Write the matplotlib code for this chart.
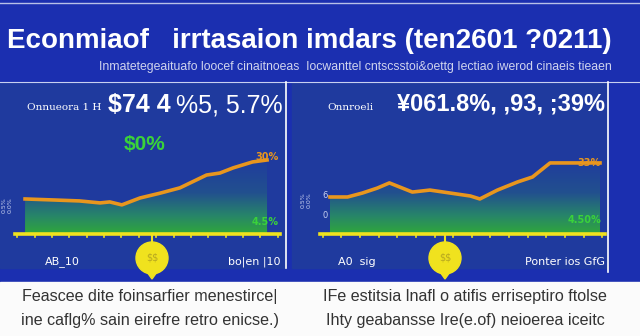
import matplotlib
matplotlib.use("Agg")
import matplotlib.pyplot as plt
import numpy as np
from matplotlib.patches import Rectangle, Circle, Polygon
from matplotlib.colors import LinearSegmentedColormap

plt.rcParams['text.parse_math'] = False

W, H = 640, 336
DPI = 100

# ---- data ----
title = "Econmiaof   irrtasaion imdars (ten2601 ?0211)"
subtitle = "Inmatetegeaituafo loocef cinaitnoeas  Iocwanttel cntscsstoi&oettg Iectiao iwerod cinaeis tieaen"

left_years = [2001.0, 2003.3, 2005.5, 2007.2, 2008.0, 2009.0, 2010.5, 2012.2,
              2013.8, 2016.0, 2017.1, 2018.2, 2019.8, 2021.0]
left_values = [14.2, 13.8, 13.4, 12.6, 13.0, 11.8, 14.6, 16.6, 18.7, 23.9,
               24.7, 26.8, 29.2, 30.0]

right_years = [2001.0, 2002.3, 2003.4, 2004.5, 2005.4, 2007.1, 2008.4, 2009.9,
               2011.4, 2012.1, 2013.4, 2014.9, 2016.0, 2017.3, 2018.3, 2019.5, 2021.0]
right_values = [15.0, 15.0, 16.6, 18.6, 20.7, 17.0, 17.8, 16.6, 15.4, 14.2,
                17.8, 21.1, 23.1, 28.8, 28.8, 28.8, 28.8]

left_head = ["Onnueora 1 H", "$74 4", "%5, 5.7%"]
right_head = ["Onnroeli", "\u00a5061.8%, ,93, ;39%"]
left_mid = "$0%"
left_end = ["30%", "4.5%"]
right_end = ["33%", "4.50%"]
left_foot = ["AB_10", "bo|en |10"]
right_foot = ["A0  sig", "Ponter ios GfG"]
left_note = ["Feascee dite foinsarfier menestirce|", "ine caflg% sain eirefre retro enicse.)"]
right_note = ["IFe estitsia lnafl o atifis erriseptiro ftolse", "Ihty geabansse Ire(e.of) neioerea iceitc"]

BG = "#1b2fb0"
PANEL = "#1f3a9e"
ORANGE = "#e8961e"
YELLOW = "#f0e21e"
GREEN = "#3ad23a"

fig = plt.figure(figsize=(W / DPI, H / DPI), dpi=DPI)
fig.patch.set_facecolor(BG)

bg = fig.add_axes([0, 0, 1, 1], zorder=0)
bg.set_xlim(0, W)
bg.set_ylim(H, 0)
bg.axis("off")

bg.add_patch(Rectangle((0, 0), W, H, color=BG))
bg.plot([0, W], [3, 3], color="#b8c0e8", lw=1)
bg.add_patch(Rectangle((0, 83), 286, 185, color=PANEL))
bg.add_patch(Rectangle((292, 83), 316, 185, color=PANEL))
bg.plot([0, 640], [82, 82], color="#c8d0f0", lw=0.8)
bg.plot([286, 286], [82, 268], color="white", lw=1.2)
bg.plot([608, 608], [82, 272], color="white", lw=1.2)
bg.add_patch(Rectangle((0, 282), W, H - 282, color="#fbfbfb"))

cmap = LinearSegmentedColormap.from_list(
    "g", [(0.0, "#30a83a"), (0.25, "#27846a"), (0.55, "#22508e"), (1.0, "#1f3c9e")])

def panel(x0px, x1px, yrs, vals, xa, xb):
    ax = fig.add_axes([x0px / W, (H - 234) / H, (x1px - x0px) / W, (234 - 82) / H], zorder=2)
    ax.set_xlim(xa, xb)
    ax.set_ylim(0, 61.6)
    ax.axis("off")
    ax.patch.set_alpha(0)
    poly_x = [yrs[0]] + list(yrs) + [yrs[-1]]
    poly_y = [0] + list(vals) + [0]
    grad = np.linspace(0, 1, 256).reshape(-1, 1)
    im = ax.imshow(grad, extent=[yrs[0], yrs[-1], 0, 30], origin="lower",
                   cmap=cmap, aspect="auto", zorder=1)
    clip = Polygon(list(zip(poly_x, poly_y)), closed=True, transform=ax.transData)
    im.set_clip_path(clip)
    ax.plot(yrs, vals, color=ORANGE, lw=2.6, zorder=3, solid_joinstyle="round")
    ax.plot([xa, xb], [0, 0], color=YELLOW, lw=2.6, zorder=4, clip_on=False)
    ticks = np.linspace(xa + 0.2, xb - 0.2, 16)
    for t in ticks:
        ax.plot([t, t], [0, -1.2], color=YELLOW, lw=1.2, clip_on=False, zorder=4)
    ax.set_xlim(xa, xb)
    ax.set_ylim(0, 61.6)
    return ax

axl = panel(15, 280, left_years, left_values, 2000.17, 2022.07)
axr = panel(320, 605, right_years, right_values, 2000.26, 2021.37)

# overlay for texts / markers
ov = fig.add_axes([0, 0, 1, 1], zorder=5)
ov.set_xlim(0, W)
ov.set_ylim(H, 0)
ov.axis("off")
ov.patch.set_alpha(0)

ov.text(7, 41, title, color="white", fontsize=20, fontweight="bold",
        family="Liberation Sans", va="center", ha="left")
ov.text(612, 67, subtitle, color="#d0d4ee", fontsize=8.8,
        va="center", ha="right", family="Liberation Sans")

for cx in (152, 445):
    ov.plot([cx, cx], [235, 245], color=YELLOW, lw=1.5)
    ov.add_patch(Circle((cx, 258), 16, color=YELLOW))
    ov.add_patch(Polygon([(cx - 5, 272), (cx + 5, 272), (cx, 279)], color=YELLOW))
    ov.text(cx, 258, "$$", color="#b8a820", fontsize=7, ha="center", va="center")

ov.text(27, 108, left_head[0], color="white", fontsize=7.5, family="DejaVu Serif", va="center")
ov.text(108, 105, left_head[1], color="white", fontsize=18, fontweight="bold",
        family="Liberation Sans", va="center")
ov.text(283, 105, left_head[2], color="white", fontsize=18, family="Liberation Sans",
        va="center", ha="right")
ov.text(124, 144, left_mid, color=GREEN, fontsize=15, fontweight="bold",
        family="Liberation Sans", va="center")
ov.text(279, 157, left_end[0], color=ORANGE, fontsize=7, fontweight="bold", ha="right", va="center")
ov.text(279, 222, left_end[1], color=GREEN, fontsize=7, fontweight="bold", ha="right", va="center")
ov.text(7, 205, "0.5%\n0.0%", color="#c8d0f0", fontsize=4.5, rotation=90, ha="center", va="center")
ov.text(45, 262, left_foot[0], color="white", fontsize=8, va="center")
ov.text(280, 262, left_foot[1], color="white", fontsize=8, va="center", ha="right")

ov.text(327, 108, right_head[0], color="white", fontsize=7.5, family="DejaVu Serif", va="center")
ov.text(605, 104, right_head[1], color="white", fontsize=17, fontweight="bold",
        family="Liberation Sans", va="center", ha="right")
ov.text(601, 163, right_end[0], color=ORANGE, fontsize=7, fontweight="bold", ha="right", va="center")
ov.text(601, 220, right_end[1], color=GREEN, fontsize=7, fontweight="bold", ha="right", va="center")
ov.text(306, 200, "0.5%\n0.0%", color="#c8d0f0", fontsize=4.5, rotation=90, ha="center", va="center")
ov.text(325, 195, "6", color="#c8d0f0", fontsize=6, ha="center", va="center")
ov.text(325, 215, "0", color="#c8d0f0", fontsize=6, ha="center", va="center")
ov.text(338, 262, right_foot[0], color="white", fontsize=8, va="center")
ov.text(605, 262, right_foot[1], color="white", fontsize=8, va="center", ha="right")

for cxn, note in ((150, left_note), (465, right_note)):
    ov.text(cxn, 296, note[0], color="#333333", fontsize=11.6, ha="center", va="center",
            family="Liberation Sans")
    ov.text(cxn, 320, note[1], color="#333333", fontsize=11.6, ha="center", va="center",
            family="Liberation Sans")

fig.savefig("out.png", dpi=DPI, facecolor=BG)
